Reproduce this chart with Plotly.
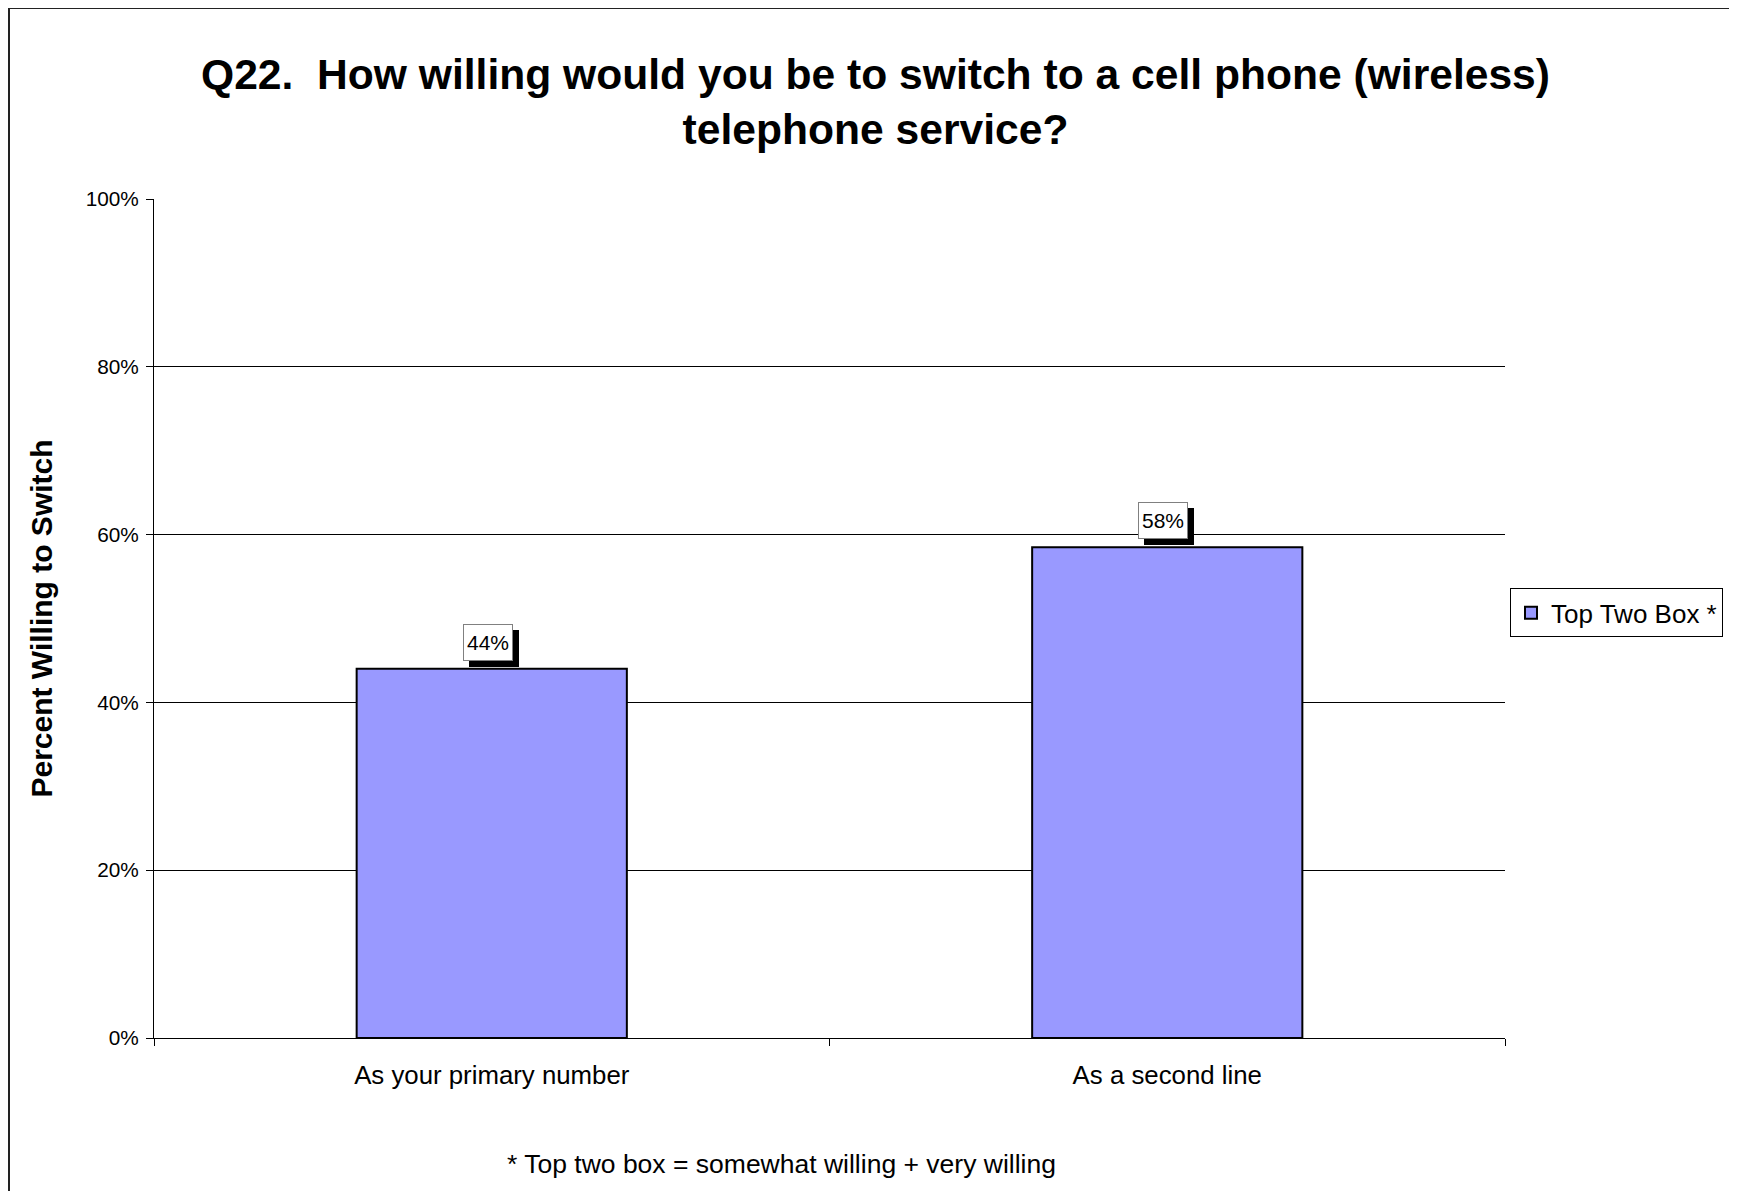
import plotly.graph_objects as go

categories = ["As your primary number", "As a second line"]
values = [0.44, 0.585]
value_labels = ["44%", "58%"]
series_name = "Top Two Box *"
y_tick_vals = [0, 0.2, 0.4, 0.6, 0.8, 1.0]
y_tick_text = ["0%", "20%", "40%", "60%", "80%", "100%"]

FONT = "Arial, Liberation Sans, sans-serif"

W, H = 1721, 1183
L, T = 146, 191
PW, PH = 1351, 839
R = W - L - PW
B = H - T - PH


def px(x):
    return (x - L) / PW


def py(y):
    return (T + PH - y) / PH


fig = go.Figure()
fig.add_trace(go.Bar(
    x=categories, y=values, name=series_name, width=0.4,
    marker=dict(color="#9999FF", line=dict(color="black", width=2)),
    showlegend=True,
))

# data labels with drop shadow
for cat, val, lab in zip(categories, values, value_labels):
    fig.add_annotation(x=cat, y=val, text="\u00a0", showarrow=False, yanchor="bottom",
                       xshift=2, yshift=2, width=44, height=31, borderpad=2,
                       bgcolor="black", bordercolor="black", borderwidth=1,
                       font=dict(family=FONT, size=21, color="black"))
    fig.add_annotation(x=cat, y=val, text=lab, showarrow=False, yanchor="bottom",
                       xshift=-4, yshift=8, width=44, height=31, borderpad=2,
                       bgcolor="white", bordercolor="#808080", borderwidth=1,
                       font=dict(family=FONT, size=21, color="black"))

# title
fig.add_annotation(xref="paper", yref="paper", x=px(867), y=py(94),
                   text="<b>Q22.\u00a0 How willing would you be to switch to a cell phone (wireless)<br>telephone service?</b>",
                   showarrow=False, xanchor="center", yanchor="middle",
                   font=dict(family=FONT, size=42.6, color="black"))

# footnote
fig.add_annotation(xref="paper", yref="paper", x=px(773), y=py(1156),
                   text="* Top two box = somewhat willing + very willing",
                   showarrow=False, xanchor="center", yanchor="middle",
                   font=dict(family=FONT, size=26.5, color="black"))

# outer chart border
fig.add_shape(type="rect", xref="paper", yref="paper",
              x0=px(1), x1=1.4, y0=-0.4, y1=py(0),
              line=dict(color="#222222", width=2), fillcolor="rgba(0,0,0,0)", layer="below")

fig.update_layout(
    width=W, height=H,
    margin=dict(l=L, r=R, t=T, b=B, autoexpand=False),
    paper_bgcolor="white", plot_bgcolor="white",
    font=dict(family=FONT, color="black"),
    bargap=0.6,
    showlegend=True,
    legend=dict(x=1.0037, y=0.5066, xanchor="left", yanchor="middle",
                bordercolor="black", borderwidth=1, bgcolor="white",
                font=dict(family=FONT, size=26, color="black"),
                itemwidth=30, tracegroupgap=0),
    xaxis=dict(showline=True, linecolor="black", linewidth=1, ticks="outside",
               tickson="boundaries", ticklen=7, tickcolor="black",
               ticklabelstandoff=14,
               tickfont=dict(family=FONT, size=25.8, color="black"),
               showgrid=False),
    yaxis=dict(range=[0, 1], tickvals=y_tick_vals, ticktext=y_tick_text,
               showline=True, linecolor="black", linewidth=1, ticks="outside",
               ticklen=7, tickcolor="black", showgrid=True, gridcolor="black",
               gridwidth=1, zeroline=False, ticklabelstandoff=3,
               tickfont=dict(family=FONT, size=20.8, color="black"),
               title=dict(text="<b>Percent Willing to Switch</b>", standoff=24,
                          font=dict(family=FONT, size=30, color="black"))),
)

fig.write_html("out.html")
